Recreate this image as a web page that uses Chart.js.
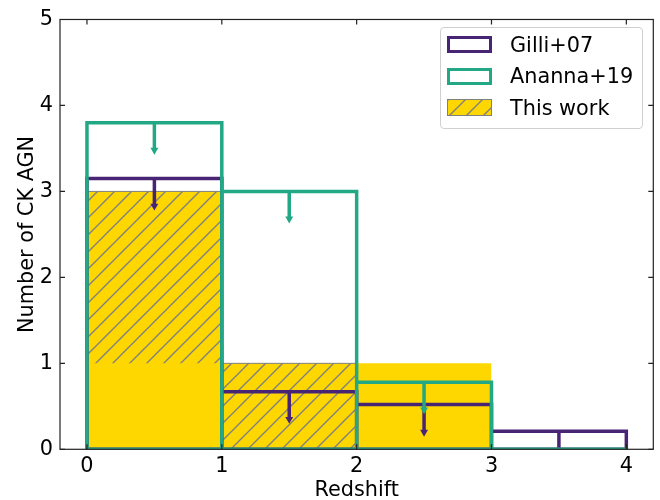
<!DOCTYPE html>
<html>
<head>
<meta charset="utf-8">
<script src="https://cdn.jsdelivr.net/npm/chart.js@4"></script>
<style>
  body { margin: 0; background: #fff; }
  #wrap { position: relative; width: 660px; height: 500px; }
  #legend {
    position: absolute; left: 440px; top: 27px; width: 201px; height: 100px;
    border: 1px solid #d0d0d0; border-radius: 4px; background: rgba(255,255,255,0.8);
    font-family: 'DejaVu Sans', sans-serif; font-size: 20.8px; color: #000;
  }
  .row { position: absolute; left: 6px; height: 24px; display: flex; align-items: center; white-space: nowrap; }
  .sw { width: 45px; height: 17px; box-sizing: border-box; margin-right: 18px; background: #fff; }
</style>
</head>
<body>
<div id="wrap">
  <canvas id="c" width="660" height="500"></canvas>
  <div id="legend"></div>
</div>
<script>
// redshift bins
const binEdges = [0, 1, 2, 3, 4];
// upper limits from the models
const gilli07 = [3.15, 0.67, 0.52, 0.21];
const ananna19 = [3.80, 3.00, 0.78, 0.00];
// this work: hatched part and solid part
const thisWorkHatched = [3, 1, 0];
const thisWorkSolid = [1, 0, 1];
const xTickVals = [0, 1, 2, 3, 4];
const yTickVals = [0, 1, 2, 3, 4, 5];
const seriesNames = ['Gilli+07', 'Ananna+19', 'This work'];

const PURPLE = '#482475';
const GREEN = '#22a884';
const GOLD = '#ffd700';
const HATCH = '#808080';
const ARROW_LEN = 0.3;
const HEAD_OFF = 0.32;
const FONT = { family: 'DejaVu Sans', size: 20.8 };

function hatchPattern() {
  const s = 17;
  const cv = document.createElement('canvas');
  cv.width = s; cv.height = s;
  const g = cv.getContext('2d');
  g.fillStyle = GOLD;
  g.fillRect(0, 0, s, s);
  g.strokeStyle = HATCH;
  g.lineWidth = 1.4;
  g.beginPath();
  g.moveTo(0, s); g.lineTo(s, 0);
  g.moveTo(-2, 2); g.lineTo(2, -2);
  g.moveTo(s - 2, s + 2); g.lineTo(s + 2, s - 2);
  g.stroke();
  return cv;
}
const hatchCanvas = hatchPattern();
const ctx = document.getElementById('c').getContext('2d');
const hatchFill = ctx.createPattern(hatchCanvas, 'repeat');

function outline(vals) {
  const pts = [];
  vals.forEach((v, i) => {
    const x0 = binEdges[i], x1 = binEdges[i + 1];
    pts.push({ x: x0, y: 0 }, { x: x0, y: v }, { x: x1, y: v }, { x: x1, y: 0 }, { x: x0, y: 0 }, { x: x1, y: null });
  });
  return pts;
}

function step(vals) {
  const pts = [{ x: binEdges[0], y: 0 }];
  vals.forEach((v, i) => {
    pts.push({ x: binEdges[i], y: v }, { x: binEdges[i + 1], y: v });
  });
  pts.push({ x: binEdges[vals.length], y: 0 });
  return pts;
}

function shafts(vals) {
  const pts = [];
  vals.forEach((v, i) => {
    const xc = (binEdges[i] + binEdges[i + 1]) / 2;
    pts.push({ x: xc, y: v }, { x: xc, y: v - ARROW_LEN }, { x: xc, y: null });
  });
  return pts;
}

function heads(vals) {
  return vals.map((v, i) => ({ x: (binEdges[i] + binEdges[i + 1]) / 2, y: v - HEAD_OFF }));
}

function lineSet(data, color, order) {
  return {
    data, order, borderColor: color, borderWidth: 3.5, pointRadius: 0,
    borderJoinStyle: 'miter', borderCapStyle: 'butt', spanGaps: false, fill: false
  };
}

function headSet(data, color, order) {
  return {
    data, order, showLine: false, pointStyle: 'triangle', pointRotation: 180,
    pointRadius: 4.6, pointBackgroundColor: color, pointBorderWidth: 0
  };
}

const frame = {
  id: 'frame',
  afterDatasetsDraw(chart) {
    const { ctx, chartArea: a, scales: { x, y } } = chart;
    ctx.save();
    ctx.strokeStyle = '#222';
    ctx.lineWidth = 1.2;
    ctx.strokeRect(a.left, a.top, a.right - a.left, a.bottom - a.top);
    ctx.beginPath();
    xTickVals.forEach((v) => {
      const px = x.getPixelForValue(v);
      ctx.moveTo(px, a.bottom); ctx.lineTo(px, a.bottom - 5);
      ctx.moveTo(px, a.top); ctx.lineTo(px, a.top + 5);
    });
    yTickVals.forEach((v) => {
      const py = y.getPixelForValue(v);
      ctx.moveTo(a.left, py); ctx.lineTo(a.left + 5, py);
      ctx.moveTo(a.right, py); ctx.lineTo(a.right - 5, py);
    });
    ctx.stroke();
    ctx.restore();
  }
};

new Chart(ctx, {
  type: 'line',
  data: {
    datasets: [
      headSet(heads(ananna19), GREEN, 0),
      lineSet(shafts(ananna19), GREEN, 1),
      lineSet(outline(ananna19), GREEN, 2),
      headSet(heads(gilli07), PURPLE, 3),
      lineSet(shafts(gilli07), PURPLE, 4),
      lineSet(outline(gilli07), PURPLE, 5),
      {
        data: step(thisWorkSolid), order: 6, borderWidth: 0, pointRadius: 0,
        backgroundColor: GOLD, fill: 'origin'
      },
      {
        data: step(thisWorkHatched), order: 7, borderWidth: 1, borderColor: HATCH, pointRadius: 0,
        backgroundColor: hatchFill, fill: 'origin'
      }
    ]
  },
  options: {
    responsive: false,
    animation: false,
    events: [],
    layout: { padding: { left: 0, right: 6.7, top: 16, bottom: 0 } },
    plugins: { legend: { display: false }, tooltip: { enabled: false } },
    scales: {
      x: {
        type: 'linear', min: -0.2, max: 4.2,
        afterBuildTicks: (s) => { s.ticks = xTickVals.map((v) => ({ value: v })); },
        afterFit: (s) => { s.height = 50.7; },
        grid: { display: false, drawTicks: false },
        border: { display: false },
        ticks: { font: FONT, color: '#000', padding: 5, maxRotation: 0 },
        title: {
          display: true, text: 'Redshift', color: '#000',
          font: { family: 'DejaVu Sans', size: 20.8, lineHeight: 1 },
          padding: { top: 0, bottom: -1.5 }
        }
      },
      y: {
        type: 'linear', min: 0, max: 5,
        afterBuildTicks: (s) => { s.ticks = yTickVals.map((v) => ({ value: v })); },
        afterFit: (s) => { s.width = 60; },
        grid: { display: false, drawTicks: false },
        border: { display: false },
        ticks: { font: FONT, color: '#000', padding: 7 },
        title: { display: true, text: 'Number of CK AGN', font: FONT, color: '#000', padding: { top: 15.5, bottom: 0 } }
      }
    }
  },
  plugins: [frame]
});

// legend
const legend = document.getElementById('legend');
const swatchStyles = [
  { border: '3.5px solid ' + PURPLE },
  { border: '3.5px solid ' + GREEN },
  { border: '1px solid ' + HATCH, backgroundImage: 'url(' + hatchCanvas.toDataURL() + ')' }
];
const rowTops = [4.7, 36.2, 67.7];
seriesNames.forEach((name, i) => {
  const row = document.createElement('div');
  row.className = 'row';
  row.style.top = rowTops[i] + 'px';
  const sw = document.createElement('div');
  sw.className = 'sw';
  Object.assign(sw.style, swatchStyles[i]);
  const label = document.createElement('span');
  label.textContent = name;
  row.appendChild(sw);
  row.appendChild(label);
  legend.appendChild(row);
});
</script>
</body>
</html>
